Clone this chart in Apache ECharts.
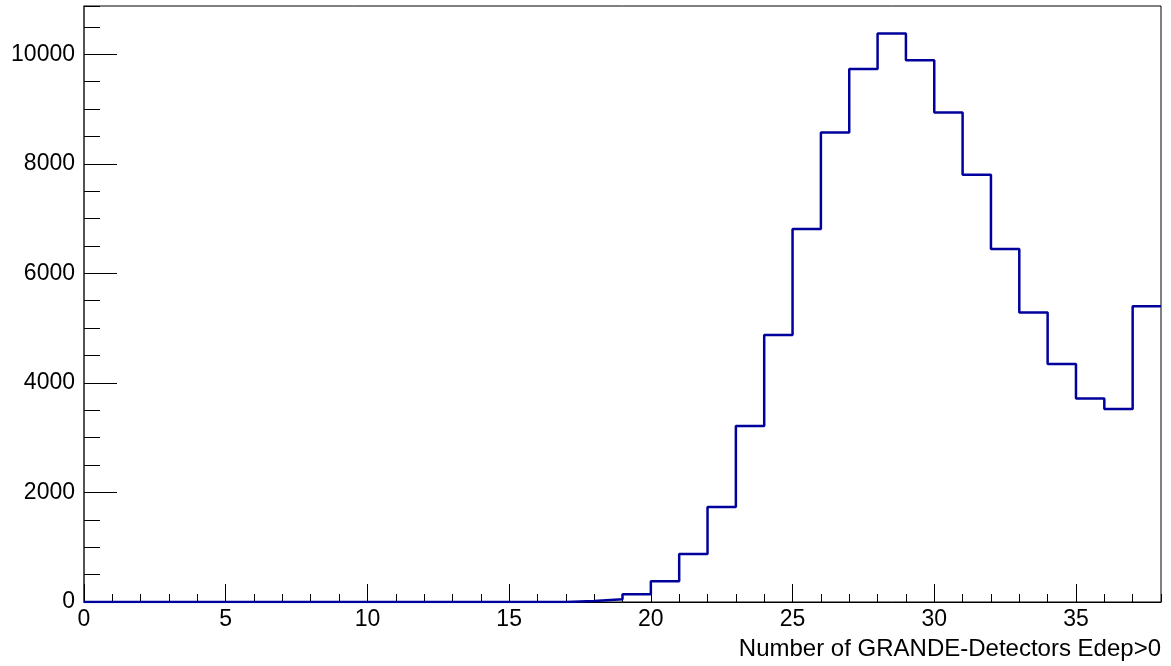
<!DOCTYPE html>
<html>
<head>
<meta charset="utf-8">
<script src="https://cdn.jsdelivr.net/npm/echarts@6/dist/echarts.min.js"></script>
<style>
  html, body { margin: 0; padding: 0; background: #fff; }
  #hist { width: 1171px; height: 666px; }
</style>
</head>
<body>
<div id="hist"></div>
<script>
// bin lower edges (width 1) and contents
const binEdges = [0, 1, 2, 3, 4, 5, 6, 7, 8, 9, 10, 11, 12, 13, 14, 15, 16, 17, 18, 19,
                  20, 21, 22, 23, 24, 25, 26, 27, 28, 29, 30, 31, 32, 33, 34, 35, 36, 37];
const binCounts = [0, 0, 0, 0, 0, 0, 0, 0, 0, 0, 0, 0, 0, 0, 0, 0, 0, 20, 50, 140,
                   380, 875, 1735, 3212, 4872, 6807, 8570, 9732, 10377, 9891, 8936, 7798, 6442, 5286, 4343, 3717, 3522, 5401];
const xMax = 38;
const yMax = 10880;
const xTitle = 'Number of GRANDE-Detectors Edep>0';

let chart = echarts.init(document.getElementById('hist'));

// step line: each bin drawn flat from its lower edge to the next edge
const stepData = binEdges.map((x, i) => [x, binCounts[i]]);
stepData.push([xMax, binCounts[binCounts.length - 1]]);

const labelFont = { fontFamily: 'Liberation Sans', fontSize: 23, color: '#000' };
const plain = v => String(v);

option = {
    animation: false,
    grid: {
        left: 84,
        right: 10,
        top: 6,
        bottom: 64,
        show: true,
        borderColor: '#000',
        borderWidth: 1
    },
    xAxis: [
        {
            // minor ticks, every bin
            type: 'value', min: 0, max: xMax, interval: 1,
            axisLine: { show: true, lineStyle: { color: '#000', width: 1 } },
            axisTick: { show: true, inside: true, length: 8, lineStyle: { color: '#000' } },
            axisLabel: { show: false },
            splitLine: { show: false }
        },
        {
            // major ticks + labels
            type: 'value', min: 0, max: xMax, interval: 5,
            position: 'bottom',
            axisLine: { show: false },
            axisTick: { show: true, inside: true, length: 18, lineStyle: { color: '#000' } },
            axisLabel: Object.assign({ margin: 6, showMaxLabel: false, formatter: plain }, labelFont),
            splitLine: { show: false },
            name: xTitle,
            nameLocation: 'end',
            nameGap: 0,
            nameTextStyle: {
                fontFamily: 'Liberation Sans', fontSize: 24, color: '#000',
                align: 'right', verticalAlign: 'top', padding: [35, 0, 0, 0]
            }
        }
    ],
    yAxis: [
        {
            type: 'value', min: 0, max: yMax, interval: 500,
            axisLine: { show: true, lineStyle: { color: '#444', width: 1.5 } },
            axisTick: { show: true, inside: true, length: 16, lineStyle: { color: '#000' } },
            axisLabel: { show: false },
            splitLine: { show: false }
        },
        {
            type: 'value', min: 0, max: yMax, interval: 2000,
            position: 'left',
            axisLine: { show: false },
            axisTick: { show: true, inside: true, length: 33, lineStyle: { color: '#000' } },
            axisLabel: Object.assign({ margin: 9, showMaxLabel: false, formatter: plain }, labelFont),
            splitLine: { show: false }
        }
    ],
    series: [{
        type: 'line',
        step: 'end',
        xAxisIndex: 0,
        yAxisIndex: 0,
        symbol: 'none',
        lineStyle: { color: '#00009c', width: 2.5 },
        data: stepData
    }]
};

chart.setOption(option);
</script>
</body>
</html>
